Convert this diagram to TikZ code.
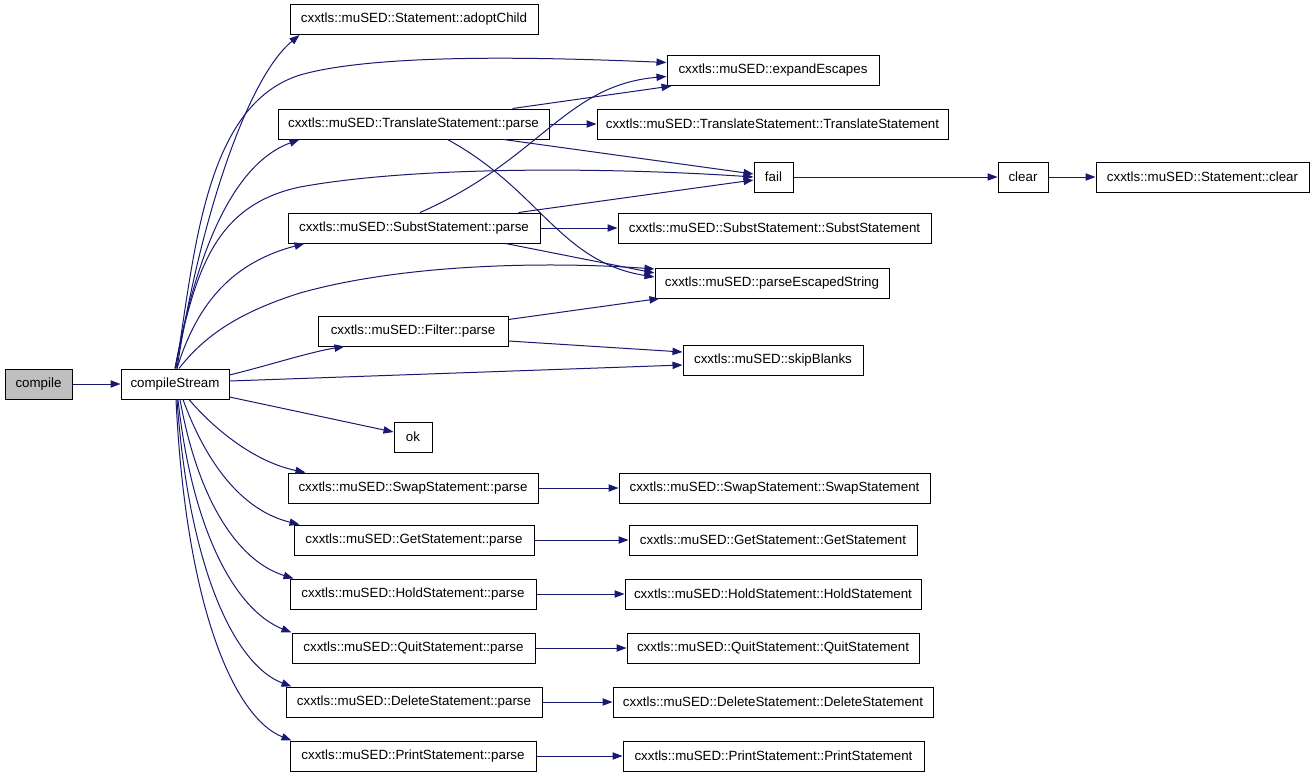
\documentclass[tikz,border=0pt]{standalone}
\usepackage{fontspec}
\setmainfont{Liberation Sans}
\usetikzlibrary{arrows.meta,calc}
\definecolor{edgeblue}{HTML}{191970}
\definecolor{boxgray}{HTML}{BFBFBF}
\begin{document}
\begin{tikzpicture}[x=0.75pt,y=-0.75pt,
  box/.style={draw=black,line width=0.75pt,fill=white,inner sep=0pt,minimum height=22.5pt,font=\fontsize{10}{12}\selectfont},
  edge/.style={draw=edgeblue,line width=0.75pt,-{Triangle[length=7.5pt,width=5.5pt]}}]
\useasboundingbox (0,0) rectangle (1315,776);
% nodes
\node[box,fill=boxgray,minimum width=50.25pt] (cp) at (38.5,384) {compile};
\node[box,minimum width=81pt] (cs) at (175,384) {compileStream};
\node[box,minimum width=186pt] (ad) at (414,19.5) {cxxtls::muSED::Statement::adoptChild};
\node[box,minimum width=159pt] (ee) at (773,70.5) {cxxtls::muSED::expandEscapes};
\node[box,minimum width=203.25pt] (tsp) at (413.5,124) {cxxtls::muSED::TranslateStatement::parse};
\node[box,minimum width=263.25pt] (tsts) at (772.5,124) {cxxtls::muSED::TranslateStatement::TranslateStatement};
\node[box,minimum width=29.25pt] (fail) at (773.5,177) {fail};
\node[box,minimum width=37.5pt] (clr) at (1023,177) {clear};
\node[box,minimum width=159.75pt] (stc) at (1202.5,177) {cxxtls::muSED::Statement::clear};
\node[box,minimum width=189pt] (ssp) at (414,228) {cxxtls::muSED::SubstStatement::parse};
\node[box,minimum width=234.75pt] (ssss) at (774.5,228) {cxxtls::muSED::SubstStatement::SubstStatement};
\node[box,minimum width=175.5pt] (pe) at (772,283) {cxxtls::muSED::parseEscapedString};
\node[box,minimum width=142.5pt] (fp) at (413,331) {cxxtls::muSED::Filter::parse};
\node[box,minimum width=135pt] (sb) at (773,360) {cxxtls::muSED::skipBlanks};
\node[box,minimum width=28.5pt] (ok) at (413,437) {ok};
\node[box,minimum width=187.5pt] (swp) at (413,488) {cxxtls::muSED::SwapStatement::parse};
\node[box,minimum width=233.25pt] (swss) at (774.5,488) {cxxtls::muSED::SwapStatement::SwapStatement};
\node[box,minimum width=180pt] (gp) at (414,540) {cxxtls::muSED::GetStatement::parse};
\node[box,minimum width=216pt] (gsgs) at (773,540) {cxxtls::muSED::GetStatement::GetStatement};
\node[box,minimum width=184.5pt] (hp) at (413,594) {cxxtls::muSED::HoldStatement::parse};
\node[box,minimum width=222pt] (hshs) at (773,594) {cxxtls::muSED::HoldStatement::HoldStatement};
\node[box,minimum width=182.25pt] (qp) at (413.5,648) {cxxtls::muSED::QuitStatement::parse};
\node[box,minimum width=219pt] (qsqs) at (773,648) {cxxtls::muSED::QuitStatement::QuitStatement};
\node[box,minimum width=192pt] (dp) at (414,702) {cxxtls::muSED::DeleteStatement::parse};
\node[box,minimum width=240pt] (dsds) at (773,702) {cxxtls::muSED::DeleteStatement::DeleteStatement};
\node[box,minimum width=184.5pt] (pp) at (413,756) {cxxtls::muSED::PrintStatement::parse};
\node[box,minimum width=225.75pt] (psps) at (773.5,756) {cxxtls::muSED::PrintStatement::PrintStatement};
% edges from compile / compileStream
\draw[edge] (cp.east) -- (cs.west);
\draw[edge] ($(cs.north)+(2,0)$) .. controls (198,230) and (245,80) .. ($(ad.south west)+(10,0)$);
\draw[edge] ($(cs.north)+(1,0)$) .. controls (195,250) and (205,105) .. (300,75) .. controls (380,52) and (560,58) .. ($(ee.west)+(0,-8)$);
\draw[edge] (cs.north) .. controls (195,260) and (230,165) .. ($(tsp.south west)+(22,0)$);
\draw[edge] (cs.north) .. controls (195,270) and (215,205) .. (300,187) .. controls (420,165) and (620,168) .. (fail.west);
\draw[edge] ($(cs.north)+(2,0)$) .. controls (198,300) and (235,262) .. ($(ssp.south west)+(17,0)$);
\draw[edge] ($(cs.north)+(4,0)$) .. controls (205,335) and (240,312) .. (300,293) .. controls (410,262) and (560,262) .. ($(pe.west)+(0,-14)$);
\draw[edge] ($(cs.east)+(0,-9)$) .. controls (270,365) and (310,352) .. ($(fp.south west)+(27,0)$);
\draw[edge] ($(cs.east)+(0,-3)$) -- ($(sb.west)+(0,5)$);
\draw[edge] ($(cs.east)+(0,13)$) -- ($(ok.west)+(0,-5)$);
\draw[edge] ($(cs.south)+(14,0)$) .. controls (215,430) and (255,462) .. ($(swp.north west)+(18,0)$);
\draw[edge] ($(cs.south)+(8,0)$) .. controls (205,460) and (240,510) .. ($(gp.north west)+(6,0)$);
\draw[edge] ($(cs.south)+(5,0)$) .. controls (197,495) and (235,560) .. ($(hp.north west)+(4,0)$);
\draw[edge] ($(cs.south)+(3,0)$) .. controls (192,530) and (235,610) .. ($(qp.north west)+(0,0)$);
\draw[edge] ($(cs.south)+(2,0)$) .. controls (189,570) and (235,665) .. ($(dp.north west)+(6,0)$);
\draw[edge] ($(cs.south)+(1,0)$) .. controls (186,610) and (235,718) .. ($(pp.north west)+(2,0)$);
% edges from TranslateStatement::parse
\draw[edge] ($(tsp.north east)+(-37,0)$) -- ($(ee.south west)+(5,0)$);
\draw[edge] (tsp.east) -- (tsts.west);
\draw[edge] ($(tsp.south east)+(-46,0)$) -- ($(fail.west)+(0,-3)$);
\draw[edge] ($(tsp.south)+(34,0)$) .. controls (540,190) and (560,262) .. ($(pe.west)+(0,-6)$);
% edges from SubstStatement::parse
\draw[edge] ($(ssp.north)+(6,0)$) .. controls (540,160) and (565,85) .. ($(ee.west)+(0,6)$);
\draw[edge] ($(ssp.north east)+(-22,0)$) -- ($(fail.west)+(0,3)$);
\draw[edge] (ssp.east) -- (ssss.west);
\draw[edge] ($(ssp.south east)+(-35,0)$) -- ($(pe.west)+(0,-10)$);
% edges from Filter::parse
\draw[edge] ($(fp.north east)+(0,4)$) -- ($(pe.south west)+(5,0)$);
\draw[edge] ($(fp.east)+(0,10)$) -- ($(sb.west)+(0,-8)$);
% fail chain
\draw[edge] (fail.east) -- (clr.west);
\draw[edge] (clr.east) -- (stc.west);
% statement constructors
\draw[edge] (swp.east) -- (swss.west);
\draw[edge] (gp.east) -- (gsgs.west);
\draw[edge] (hp.east) -- (hshs.west);
\draw[edge] (qp.east) -- (qsqs.west);
\draw[edge] (dp.east) -- (dsds.west);
\draw[edge] (pp.east) -- (psps.west);
\end{tikzpicture}
\end{document}
